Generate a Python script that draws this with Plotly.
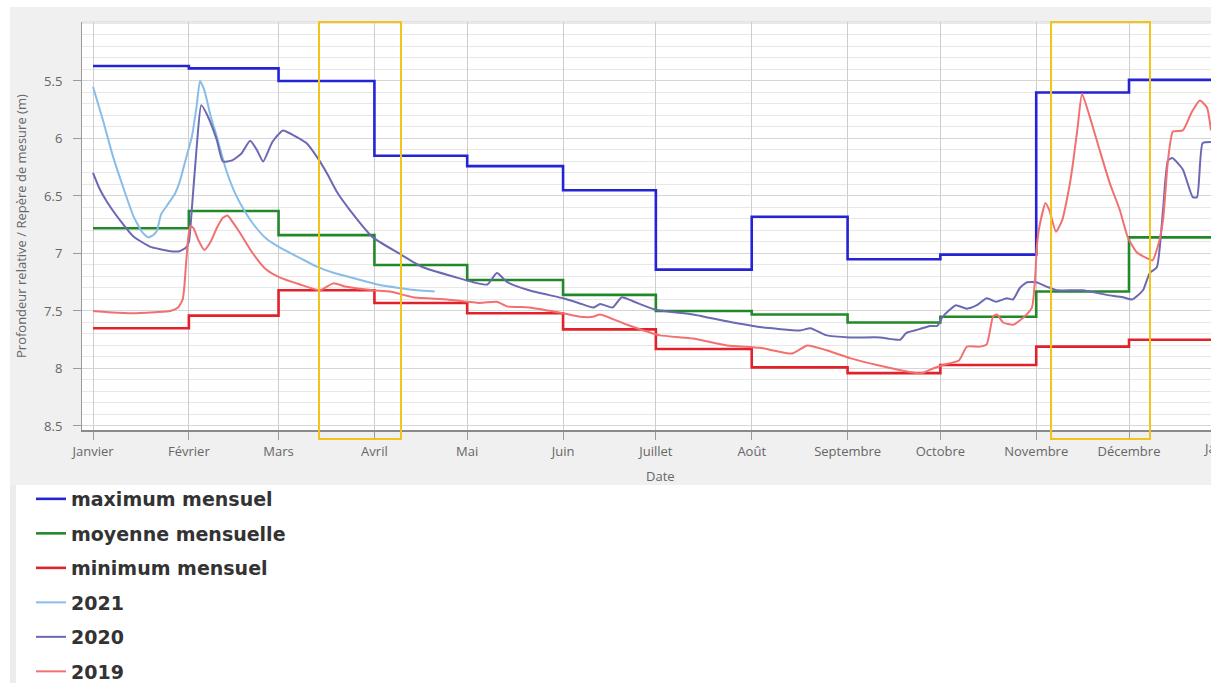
import pandas as pd
import plotly.graph_objects as go

# ---------------------------------------------------------------------------
# Data
# ---------------------------------------------------------------------------
mois_debut = ["2020-01-01", "2020-02-01", "2020-03-01", "2020-04-01",
              "2020-05-01", "2020-06-01", "2020-07-01", "2020-08-01",
              "2020-09-01", "2020-10-01", "2020-11-01", "2020-12-01"]
mois_noms = ["Janvier", "Février", "Mars", "Avril", "Mai", "Juin", "Juillet",
             "Août", "Septembre", "Octobre", "Novembre", "Décembre"]
fin_annee = "2021-01-01"

# monthly statistics (depth in m, one value per month)
max_mensuel = [5.37, 5.39, 5.50, 6.15, 6.24, 6.45, 7.14, 6.68, 7.05, 7.01, 5.60, 5.49]
moy_mensuelle = [6.78, 6.63, 6.84, 7.10, 7.23, 7.36, 7.50, 7.53, 7.60, 7.55, 7.33, 6.86]
min_mensuel = [7.65, 7.54, 7.32, 7.43, 7.52, 7.66, 7.83, 7.99, 8.04, 7.97, 7.81, 7.75]

# yearly records: day of year (0 = 1st January) and depth (m)
jours_2021 = [0, 3.2, 6.5, 9.7, 13, 15.8, 17.8, 19.5, 20.7, 22, 24, 26.5, 28, 30,
              32, 33.5, 34.6, 36, 38, 40, 43, 46, 49, 52, 56, 60.5, 64, 67, 72,
              78, 85, 92, 99, 105, 110.5]
prof_2021 = [5.55, 5.84, 6.16, 6.42, 6.67, 6.81, 6.86, 6.84, 6.80, 6.66, 6.58,
             6.48, 6.38, 6.18, 5.98, 5.72, 5.50, 5.58, 5.80, 5.98, 6.27, 6.48,
             6.63, 6.75, 6.87, 6.95, 7.00, 7.04, 7.11, 7.17, 7.22, 7.27, 7.30,
             7.32, 7.33]

jours_2020 = [0, 2, 4.5, 8.7, 13, 18.4, 25, 28, 30, 31, 32, 33.6, 35, 37, 40, 42,
              45, 48, 50.8, 53, 55, 58, 61.4, 64.7, 69, 72.4, 75.6, 79, 83, 90.5,
              99, 106.7, 117.7, 123, 127.5, 130.6, 134, 141, 152, 157, 161.7, 164,
              168, 171, 175, 182, 194, 205, 215.6, 228.6, 232, 237, 244.7, 254.5,
              261, 263, 267, 270.6, 273, 274.5, 277, 279, 282.6, 285.8, 289, 292,
              295.5, 297.5, 299.7, 302, 305, 308.5, 311.7, 320, 327.8, 333, 336,
              339.5, 341.7, 344, 346, 347.6, 349, 352.4, 355.6, 357, 358.8, 361.5]
prof_2020 = [6.30, 6.43, 6.55, 6.71, 6.85, 6.94, 6.98, 6.98, 6.95, 6.90, 6.60,
             6.05, 5.71, 5.80, 6.01, 6.20, 6.19, 6.13, 6.02, 6.10, 6.20, 6.03,
             5.93, 5.97, 6.04, 6.16, 6.30, 6.47, 6.62, 6.86, 7.00, 7.12, 7.21,
             7.25, 7.27, 7.17, 7.25, 7.32, 7.39, 7.43, 7.47, 7.44, 7.47, 7.38,
             7.42, 7.49, 7.53, 7.59, 7.64, 7.67, 7.65, 7.71, 7.73, 7.73, 7.75,
             7.69, 7.66, 7.63, 7.63, 7.56, 7.49, 7.45, 7.48, 7.45, 7.39, 7.42,
             7.39, 7.40, 7.30, 7.25, 7.25, 7.29, 7.32, 7.32, 7.36, 7.38, 7.40,
             7.32, 7.17, 7.12, 6.62, 6.19, 6.17, 6.27, 6.51, 6.51, 6.04, 6.03]

jours_2019 = [0, 5, 13, 20, 25, 27.5, 29, 29.5, 30, 30.5, 31, 31.5, 32.5, 34, 36,
              38, 40, 42, 43.5, 45, 47.5, 51.7, 56, 60.5, 67, 73.4, 77.7, 82, 90.5,
              96, 103.5, 114.5, 125, 130.6, 133.9, 141, 152, 157.5, 161.7, 164,
              172.7, 183, 194, 205, 215.7, 226, 231, 237, 244.8, 253.5, 264, 268,
              271.6, 274.8, 280, 282.6, 286.7, 289, 291, 292.3, 294.3, 297.5,
              300.7, 303.6, 304.6, 305.2, 306, 308, 309.2, 311.4, 313.4, 315.7,
              316.7, 318.4, 319.8, 322.3, 325.5, 328.8, 332, 334.6, 337.5, 340.7,
              342.6, 344.3, 346, 347.6, 349.2, 352.4, 355.3, 357.9, 360.2, 361.5]
prof_2019 = [7.50, 7.51, 7.52, 7.51, 7.50, 7.47, 7.40, 7.30, 7.12, 6.95, 6.82,
             6.76, 6.78, 6.88, 6.97, 6.90, 6.78, 6.69, 6.67, 6.72, 6.82, 7.00,
             7.14, 7.21, 7.27, 7.32, 7.26, 7.29, 7.32, 7.33, 7.38, 7.40, 7.43,
             7.42, 7.46, 7.47, 7.52, 7.55, 7.55, 7.53, 7.62, 7.71, 7.74, 7.80,
             7.82, 7.87, 7.80, 7.84, 7.91, 7.97, 8.03, 8.04, 8.00, 7.97, 7.93,
             7.81, 7.81, 7.79, 7.55, 7.53, 7.60, 7.62, 7.56, 7.47, 7.23, 6.94,
             6.77, 6.56, 6.62, 6.81, 6.71, 6.42, 6.25, 5.90, 5.61, 5.81, 6.10,
             6.39, 6.62, 6.86, 6.99, 7.04, 7.06, 6.94, 6.71, 6.19, 5.94, 5.93,
             5.77, 5.67, 5.73, 5.93]

# highlighted periods
periodes_debut = ["2020-03-14 02:00", "2020-11-05 19:00"]
periodes_fin = ["2020-04-09 14:00", "2020-12-07 19:00"]

y_ticks = [5.5, 6, 6.5, 7, 7.5, 8, 8.5]
y_labels = ["5.5", "6", "6.5", "7", "7.5", "8", "8.5"]

# ---------------------------------------------------------------------------
# Geometry helpers (page is 1211 x 683)
# ---------------------------------------------------------------------------
W, H = 1211, 683
ML, MR, MT, MB = 82, 0, 22, 253
PW = W - ML - MR
PH = H - MT - MB


def px_x(px):
    return (px - ML) / PW


def px_y(py):
    return (H - MB - py) / PH


base = pd.Timestamp("2020-01-01")


def to_dates(jours):
    return base + pd.to_timedelta(jours, unit="D")


def step_xy(values):
    return mois_debut + [fin_annee], values + [values[-1]]


fig = go.Figure()

stats = [
    ("maximum mensuel", max_mensuel, "#2424d6"),
    ("moyenne mensuelle", moy_mensuelle, "#23882a"),
    ("minimum mensuel", min_mensuel, "#e2222a"),
]
for name, vals, col in stats:
    xs, ys = step_xy(vals)
    fig.add_trace(go.Scatter(x=xs, y=ys, mode="lines", name=name,
                             legendgroup=name, line=dict(color=col, width=2.6, shape="hv")))

annees = [
    ("2021", jours_2021, prof_2021, "#88bde8"),
    ("2020", jours_2020, prof_2020, "#6b68b4"),
    ("2019", jours_2019, prof_2019, "#f27070"),
]
for name, jours, prof, col in annees:
    fig.add_trace(go.Scatter(x=to_dates(jours), y=prof, mode="lines", name=name,
                             legendgroup=name,
                             line=dict(color=col, width=2, shape="spline", smoothing=0.5)))

shapes = [
    # grey chart panel
    dict(type="rect", xref="paper", yref="paper", x0=px_x(10), x1=px_x(W + 5),
         y0=px_y(485), y1=px_y(7), fillcolor="#f0f0f0", line=dict(width=0), layer="below"),
    # white plotting area
    dict(type="rect", xref="paper", yref="paper", x0=0, x1=px_x(W + 5),
         y0=0, y1=1, fillcolor="#ffffff", line=dict(width=0), layer="below"),
    # thin strip left of the legend
    dict(type="rect", xref="paper", yref="paper", x0=px_x(10), x1=px_x(16),
         y0=px_y(H + 5), y1=px_y(485), fillcolor="#ececec", line=dict(width=0), layer="below"),
    # top border
    dict(type="line", xref="paper", yref="paper", x0=0, x1=px_x(W + 5), y0=1, y1=1,
         line=dict(color="#d4d4d4", width=1)),
]
for d0, d1 in zip(periodes_debut, periodes_fin):
    shapes.append(dict(type="rect", xref="x", yref="paper", x0=d0, x1=d1,
                       y0=px_y(439), y1=1, line=dict(color="#f0c419", width=2),
                       fillcolor="rgba(0,0,0,0)", layer="above"))

axis_font = dict(family="Open Sans", size=13, color="#666666")

annotations = [
    dict(text="Profondeur relative / Repère de mesure (m)", xref="paper", yref="paper",
         x=px_x(21), y=0.5, textangle=-90, showarrow=False, font=axis_font,
         xanchor="center", yanchor="middle"),
    dict(text="Date", xref="paper", yref="paper", x=px_x(660), y=px_y(476),
         showarrow=False, font=axis_font, xanchor="center", yanchor="middle"),
    dict(text="Janvier", xref="paper", yref="paper", x=px_x(1225), y=px_y(448),
         showarrow=False, font=axis_font, xanchor="center", yanchor="middle"),
]

fig.update_layout(
    width=W, height=H,
    margin=dict(l=ML, r=MR, t=MT, b=MB, autoexpand=False),
    paper_bgcolor="#ffffff",
    plot_bgcolor="#ffffff",
    showlegend=True,
    legend=dict(x=px_x(31), y=px_y(480), xanchor="left", yanchor="top",
                bgcolor="rgba(0,0,0,0)", tracegroupgap=6.8, itemwidth=30,
                font=dict(family="DejaVu Sans", size=19, color="#333333", weight="bold")),
    shapes=shapes,
    annotations=annotations,
    xaxis=dict(
        type="date",
        range=["2019-12-28 10:38", "2020-12-27 12:17"],
        tickmode="array", tickvals=mois_debut, ticktext=mois_noms,
        showgrid=True, gridcolor="#cdcdcd", gridwidth=1,
        showline=True, linecolor="#8a8a8a", linewidth=2,
        ticks="outside", ticklen=8, tickcolor="#9a9a9a",
        tickfont=axis_font, zeroline=False,
    ),
    yaxis=dict(
        range=[8.535, 4.987],
        tickmode="array", tickvals=y_ticks, ticktext=y_labels,
        showgrid=True, gridcolor="#d6d6d6", gridwidth=1,
        minor=dict(tickmode="linear", tick0=5.0, dtick=0.1, showgrid=True,
                   gridcolor="#e8e8e8", gridwidth=1),
        showline=True, linecolor="#9a9a9a", linewidth=1,
        ticks="outside", ticklen=8, tickcolor="#9a9a9a",
        ticklabelstandoff=8,
        tickfont=axis_font, zeroline=False,
    ),
)

fig.write_html("out.html")
